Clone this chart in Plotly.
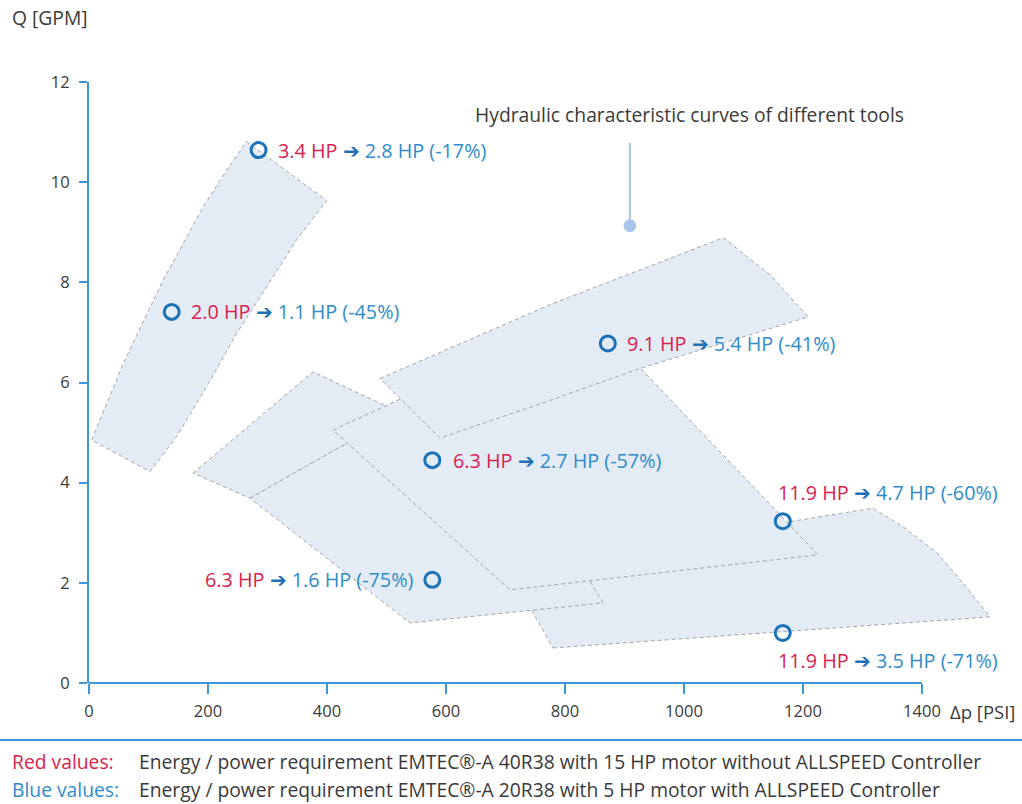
import plotly.graph_objects as go

# ---------------- data ----------------
X_TICKS = [0, 200, 400, 600, 800, 1000, 1200, 1400]
Y_TICKS = [0, 2, 4, 6, 8, 10, 12]

# operating points (Δp [PSI], Q [GPM])
POINT_P = [285, 139, 872, 577, 577, 1166, 1166]
POINT_Q = [10.64, 7.41, 6.78, 4.45, 2.06, 3.23, 1.00]
RED_HP = ["3.4 HP", "2.0 HP", "9.1 HP", "6.3 HP", "6.3 HP", "11.9 HP", "11.9 HP"]
BLUE_HP = ["2.8 HP (-17%)", "1.1 HP (-45%)", "5.4 HP (-41%)", "2.7 HP (-57%)",
           "1.6 HP (-75%)", "4.7 HP (-60%)", "3.5 HP (-71%)"]

# hydraulic characteristic areas of the tools (outline points, Δp / Q)
TOOL_A_P = [265.0, 298.7, 399.5, 349.1, 298.7, 248.2, 197.8, 147.4, 102.5, 4.5, 57.6, 124.9, 192.1, 231.4]
TOOL_A_Q = [10.81, 10.51, 9.63, 8.85, 7.91, 6.98, 5.92, 4.92, 4.22, 4.85, 6.38, 8.05, 9.51, 10.24]

TOOL_F_P = [779.8, 1166.4, 1514.3, 1468.9, 1425.2, 1368.1, 1317.6, 1171.4, 926.1, 737.8]
TOOL_F_Q = [0.70, 1.02, 1.32, 2.00, 2.60, 3.12, 3.49, 3.21, 2.46, 1.58]

TOOL_D_P = [174.8, 376.5, 499.2, 509.3, 433.6, 270.6]
TOOL_D_Q = [4.19, 6.21, 5.53, 5.01, 4.79, 3.69]

TOOL_E_P = [270.6, 433.6, 606.7, 838.7, 863.9, 539.5]
TOOL_E_Q = [3.69, 4.79, 3.65, 2.10, 1.60, 1.20]

TOOL_C_P = [410.1, 556.3, 724.4, 900.9, 1225.2, 707.6]
TOOL_C_Q = [5.05, 5.85, 6.45, 6.61, 2.56, 1.86]

TOOL_B_P = [489.1, 780.3, 1066.1, 1144.6, 1208.9, 926.1, 752.4, 589.9]
TOOL_B_Q = [6.08, 7.58, 8.89, 8.15, 7.31, 6.28, 5.55, 4.89]

NOTE_TEXT = "Hydraulic characteristic curves of different tools"
NOTE_TEXT_P, NOTE_TEXT_Q = 1010, 11.36
NOTE_DOT_P, NOTE_DOT_Q = 909, 9.13

LEGEND_RED = "Red values:"
LEGEND_BLUE = "Blue values:"
LEGEND_RED_TEXT = "Energy / power requirement EMTEC®-A 40R38 with 15 HP motor without ALLSPEED Controller"
LEGEND_BLUE_TEXT = "Energy / power requirement EMTEC®-A 20R38 with 5 HP motor with ALLSPEED Controller"

# ---------------- style ----------------
FONT = "Open Sans"
RED = "#d8234c"
BLUE_TXT = "#2f8ccb"
ARROW_BLUE = "#1f6fb4"
AXIS_BLUE = "#3b98d8"
MARKER_BLUE = "#1b72b8"
FILL = "#e3ebf5"
EDGE = "#a6a6a6"
TXT = "#3a3a3a"
FS = 19.3
FS_LABEL = 19.8
FS_TICK = 16.5

# label placement: (xanchor, xshift, yshift)
LABEL_POS = [("left", 17, 0), ("left", 17, 0), ("left", 17, 0), ("left", 19, 0),
             ("right", -17, 0), ("left", -7, 29), ("left", -7, -28)]

fig = go.Figure()

for px_, qy_ in [(TOOL_A_P, TOOL_A_Q), (TOOL_F_P, TOOL_F_Q), (TOOL_D_P, TOOL_D_Q),
                 (TOOL_E_P, TOOL_E_Q), (TOOL_C_P, TOOL_C_Q), (TOOL_B_P, TOOL_B_Q)]:
    fig.add_trace(go.Scatter(
        x=px_ + px_[:1], y=qy_ + qy_[:1], mode="lines", fill="toself",
        fillcolor=FILL, line=dict(color=EDGE, width=1, dash="4px,3px"),
        hoverinfo="skip", showlegend=False))

fig.add_trace(go.Scatter(
    x=POINT_P, y=POINT_Q, mode="markers",
    marker=dict(symbol="circle-open", size=15, color=MARKER_BLUE, line=dict(width=3, color=MARKER_BLUE)),
    hoverinfo="skip", showlegend=False, cliponaxis=False))

for p, q, r, b, (xa, xs, ys) in zip(POINT_P, POINT_Q, RED_HP, BLUE_HP, LABEL_POS):
    fig.add_annotation(
        x=p, y=q, xref="x", yref="y", showarrow=False, xanchor=xa, yanchor="middle",
        xshift=xs, yshift=ys,
        text=f"<span style='color:{RED}'>{r}</span> <span style='color:{ARROW_BLUE}'>➔</span> "
             f"<span style='color:{BLUE_TXT}'>{b}</span>",
        font=dict(family=FONT, size=FS_LABEL))

# note with pointer
fig.add_annotation(x=NOTE_TEXT_P, y=NOTE_TEXT_Q, xref="x", yref="y", text=NOTE_TEXT,
                   showarrow=False, font=dict(family=FONT, size=FS, color=TXT))
fig.add_annotation(x=NOTE_DOT_P, y=NOTE_DOT_Q, xref="x", yref="y", text=" ",
                   showarrow=True, ax=0, ay=-98, arrowhead=6, arrowsize=1.6, arrowwidth=2,
                   arrowcolor="#a9c5ea", standoff=0, startstandoff=0)

# axis titles
fig.add_annotation(x=-0.0847, y=1.1065, xref="paper", yref="paper", text="Q [GPM]",
                   showarrow=False, xanchor="left", yanchor="middle",
                   font=dict(family=FONT, size=FS, color=TXT))
fig.add_annotation(x=0.9207, y=-0.048, xref="paper", yref="paper", text="Δp [PSI]",
                   showarrow=False, xanchor="left", yanchor="middle",
                   font=dict(family=FONT, size=18.5, color=TXT))

# x axis line (0 .. last tick)
fig.add_shape(type="line", xref="x", yref="paper", x0=X_TICKS[0], x1=X_TICKS[-1], y0=0, y1=0,
              line=dict(color=AXIS_BLUE, width=2))

# legend block
fig.add_shape(type="line", xref="paper", yref="paper", x0=-0.2, x1=1.2, y0=-0.0948, y1=-0.0948,
              line=dict(color=AXIS_BLUE, width=2))
for yy, lab, col, txt in [(-0.1314, LEGEND_RED, RED, LEGEND_RED_TEXT),
                          (-0.1764, LEGEND_BLUE, BLUE_TXT, LEGEND_BLUE_TEXT)]:
    fig.add_annotation(x=-0.0847, y=yy, xref="paper", yref="paper", text=lab, showarrow=False,
                       xanchor="left", yanchor="middle", font=dict(family=FONT, size=FS, color=col))
    fig.add_annotation(x=0.0514, y=yy, xref="paper", yref="paper", text=txt, showarrow=False,
                       xanchor="left", yanchor="middle", font=dict(family=FONT, size=FS, color=TXT))

fig.update_layout(
    width=1022, height=804,
    margin=dict(l=89, r=0, t=82, b=121, pad=0),
    paper_bgcolor="white", plot_bgcolor="white",
    showlegend=False, hovermode=False,
    font=dict(family=FONT, size=FS, color=TXT),
    xaxis=dict(range=[0, 1568.1], tickvals=X_TICKS, ticks="outside", ticklen=10, tickwidth=2,
               tickcolor=AXIS_BLUE, showline=False, showgrid=False, zeroline=False,
               ticklabelstandoff=3, tickfont=dict(family=FONT, size=FS_TICK, color=TXT)),
    yaxis=dict(range=[0, 12], tickvals=Y_TICKS, ticks="outside", ticklen=8, tickwidth=2,
               tickcolor=AXIS_BLUE, showline=True, linecolor=AXIS_BLUE, linewidth=2,
               showgrid=False, zeroline=False, ticklabelstandoff=6,
               tickfont=dict(family=FONT, size=FS_TICK, color=TXT)),
)

fig.write_html("out.html", config={"displayModeBar": False},
               post_script="document.body.style.margin='0';document.body.style.overflow='hidden';")
